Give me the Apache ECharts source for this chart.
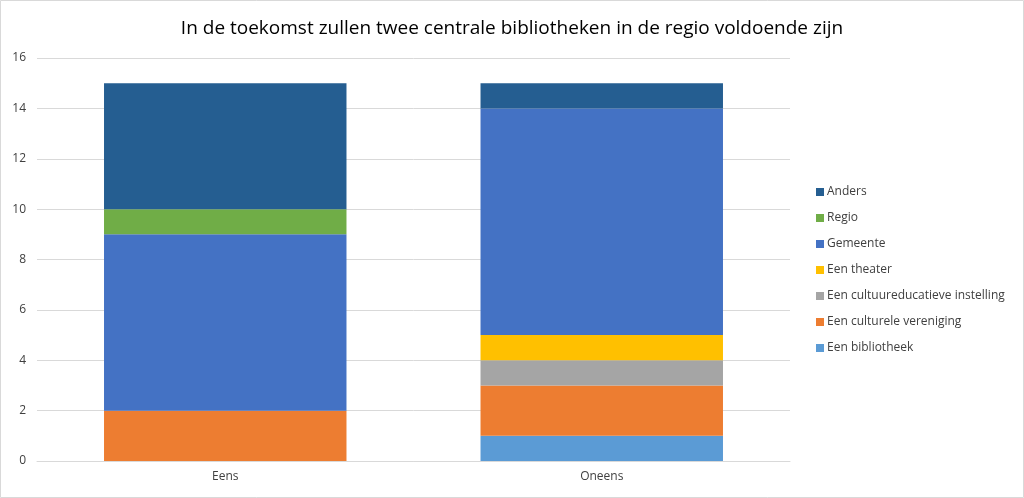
<!DOCTYPE html>
<html><head><meta charset="utf-8">
<script src="https://cdn.jsdelivr.net/npm/echarts@6/dist/echarts.min.js"></script>
<style>html,body{margin:0;padding:0;background:#fff}#c{width:1024px;height:498px}</style>
</head><body><div id="c"></div>
<script>
const categories = ['Eens', 'Oneens'];
const seriesNames = ['Een bibliotheek', 'Een culturele vereniging', 'Een cultuureducatieve instelling', 'Een theater', 'Gemeente', 'Regio', 'Anders'];
const bibliotheek = [0, 1];
const cultureleVereniging = [2, 2];
const cultuureducatief = [0, 1];
const theater = [0, 1];
const gemeente = [7, 9];
const regio = [1, 0];
const anders = [5, 1];
const colors = ['#5B9BD5', '#ED7D31', '#A5A5A5', '#FFC000', '#4472C4', '#70AD47', '#255E91'];
const values = [bibliotheek, cultureleVereniging, cultuureducatief, theater, gemeente, regio, anders];
const FONT = '"Open Sans", "Noto Sans", sans-serif';

const chart = echarts.init(document.getElementById('c'), null, {renderer: 'canvas'});
chart.setOption({
  animation: false,
  backgroundColor: '#fff',
  title: {
    text: 'In de toekomst zullen twee centrale bibliotheken in de regio voldoende zijn',
    left: 'center', top: 14,
    textStyle: {fontFamily: FONT, fontSize: 19, fontWeight: 'normal', color: '#000'}
  },
  graphic: [{type: 'rect', shape: {x: 0.5, y: 0.5, width: 1023, height: 497}, style: {fill: 'none', stroke: '#d9d9d9', lineWidth: 1}, silent: true}],
  legend: {
    orient: 'vertical', left: 811, top: 181,
    itemWidth: 8, itemHeight: 8, itemGap: 14,
    icon: 'rect',
    data: seriesNames.slice().reverse(),
    textStyle: {fontFamily: FONT, fontSize: 12, color: '#404040', lineHeight: 12, padding: [0, 0, 0, -2]}
  },
  grid: {left: 37, right: 234, top: 58, bottom: 37},
  xAxis: {
    type: 'category', data: categories,
    axisLine: {show: true, lineStyle: {color: '#d9d9d9'}},
    axisTick: {show: false},
    axisLabel: {fontFamily: FONT, fontSize: 12, color: '#404040', margin: 10}
  },
  yAxis: {
    type: 'value', min: 0, max: 16, interval: 2,
    axisLine: {show: false}, axisTick: {show: false},
    splitLine: {lineStyle: {color: '#d9d9d9'}},
    axisLabel: {fontFamily: FONT, fontSize: 12, color: '#404040', margin: 11}
  },
  series: seriesNames.map((n, i) => ({
    name: n, type: 'bar', stack: 'total', data: values[i],
    barCategoryGap: '35.6%',
    itemStyle: {color: colors[i]}
  }))
});
</script></body></html>
